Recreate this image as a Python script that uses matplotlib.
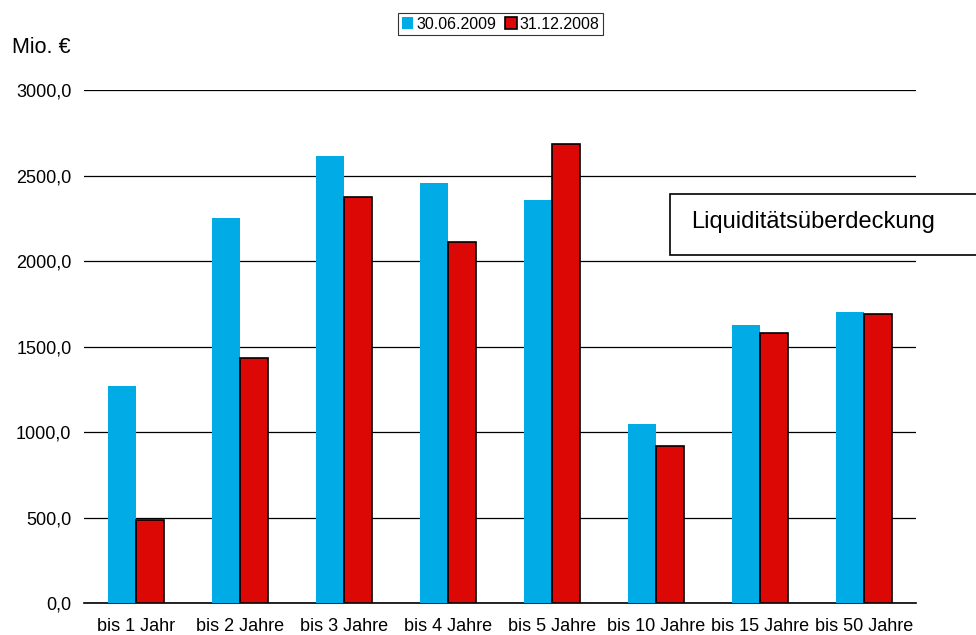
import matplotlib.pyplot as plt
import numpy as np
from matplotlib.patches import Rectangle

plt.rcParams['font.family'] = ['Liberation Sans', 'DejaVu Sans']

# Laufzeitbänder und Werte (Mio. €)
categories = ["bis 1 Jahr", "bis 2 Jahre", "bis 3 Jahre", "bis 4 Jahre",
              "bis 5 Jahre", "bis 10 Jahre", "bis 15 Jahre", "bis 50 Jahre"]
values_2009 = [1269, 2251, 2614, 2456, 2357, 1047, 1626, 1702]
values_2008 = [485, 1433, 2374, 2111, 2684, 918, 1579, 1690]
yticks = [0, 500, 1000, 1500, 2000, 2500, 3000]

blue = '#00ABE6'
red = '#DC0806'

fig = plt.figure(figsize=(9.76, 6.35), dpi=100)
ax = fig.add_axes([0.086, 0.0504, 0.8525, 0.8076])

x = np.arange(len(categories))
w = 0.27
ax.bar(x - w / 2, values_2009, w, color=blue, label='30.06.2009', zorder=3)
ax.bar(x + w / 2, values_2008, w, color=red, edgecolor='black', linewidth=1.2,
       label='31.12.2008', zorder=3)

ax.set_xlim(-0.5, len(categories) - 0.5)
ax.set_ylim(0, 3000)
ax.set_yticks(yticks)
ax.set_yticklabels([f"{v:.1f}".replace('.', ',') for v in yticks], fontsize=13)
ax.set_xticks(x)
ax.set_xticklabels(categories, fontsize=13)
ax.tick_params(length=0)
ax.tick_params(axis='y', pad=9)
ax.tick_params(axis='x', pad=11)
ax.yaxis.grid(True, color='black', linewidth=0.9, zorder=0)
for s in ['left', 'right', 'top']:
    ax.spines[s].set_visible(False)
ax.spines['bottom'].set_linewidth(1.2)

fig.text(0.012, 0.925, 'Mio. €', fontsize=15.5, ha='left', va='center')

leg = fig.legend(loc='center', bbox_to_anchor=(0.513, 0.962), ncol=2, fontsize=11.5,
                 frameon=True, fancybox=False, edgecolor='black',
                 handlelength=0.7, handleheight=0.7, handletextpad=0.2,
                 columnspacing=0.6, borderpad=0.2, borderaxespad=0)
leg.get_frame().set_linewidth(0.8)

# Beschriftungskasten rechts
fig.patches.append(Rectangle((670 / 976, 1 - 255 / 635), 320 / 976, 61 / 635,
                             transform=fig.transFigure, fill=True, facecolor='white',
                             edgecolor='black', linewidth=1.2, zorder=5))
fig.text(691 / 976, 1 - 222 / 635, 'Liquiditätsüberdeckung', fontsize=17,
         ha='left', va='center', zorder=6)

fig.savefig('out.png', dpi=100)
